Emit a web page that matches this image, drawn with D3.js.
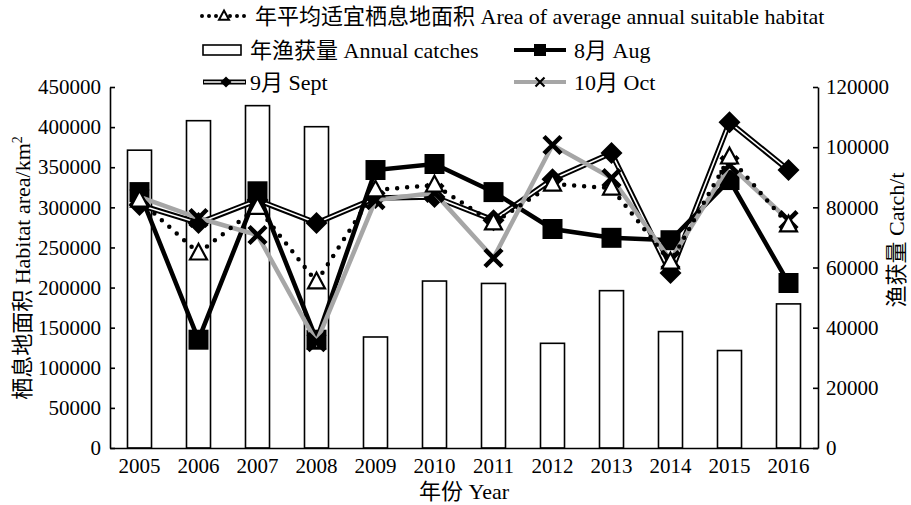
<!DOCTYPE html>
<html>
<head>
<meta charset="utf-8">
<script src="https://cdn.jsdelivr.net/npm/d3@7"></script>
<style>
  html, body { margin: 0; padding: 0; background: #fff; }
  svg text { font-family: "Liberation Serif", "Noto Sans CJK SC", serif; fill: #000; }
</style>
</head>
<body>
<svg id="chart" width="911" height="505"></svg>
<script>
// Years on the x axis
const years = ["2005","2006","2007","2008","2009","2010","2011","2012","2013","2014","2015","2016"];
// Annual catches (t), right axis
const annualCatches = [99000, 108800, 113800, 106800, 36900, 55500, 54700, 34800, 52300, 38700, 32400, 47900];
// Habitat areas (km²), left axis
const habitatAvg = [309000, 243000, 300000, 207000, 321600, 327800, 280500, 329000, 324000, 231800, 362700, 278000];
const habitatAug = [319000, 135000, 320000, 135000, 346500, 354000, 319000, 273000, 262000, 259000, 334000, 205700];
const habitatSept = [303000, 280500, 309000, 280500, 311600, 313000, 284000, 335000, 367700, 218000, 406000, 346500];
const habitatOct = [313000, 286700, 265500, 132000, 309000, 318000, 236800, 377700, 336500, 234300, 352700, 284000];
// Tick values
const leftTicks = [0, 50000, 100000, 150000, 200000, 250000, 300000, 350000, 400000, 450000];
const rightTicks = [0, 20000, 40000, 60000, 80000, 100000, 120000];

const svg = d3.select("#chart");
const L = 110, R = 818, T = 87, B = 448;
const FS = 21;   // tick labels
const FT = 22;   // titles and legend

const x = d3.scaleBand().domain(years).range([L, R]).paddingInner(0.593).paddingOuter(0.2965);
const cx = d => x(d) + x.bandwidth() / 2;
const yL = d3.scaleLinear().domain([0, 450000]).range([B, T]);
const yR = d3.scaleLinear().domain([0, 120000]).range([B, T]);

// Bars: annual catches
svg.append("g").selectAll("rect").data(years).join("rect")
  .attr("x", d => x(d))
  .attr("y", (d, i) => yR(annualCatches[i]))
  .attr("width", x.bandwidth())
  .attr("height", (d, i) => B - yR(annualCatches[i]))
  .attr("fill", "#fff").attr("stroke", "#000").attr("stroke-width", 1.6);

// Axes
function styleAxis(g) {
  g.selectAll("path.domain").attr("stroke", "#000").attr("stroke-width", 1.6);
  g.selectAll(".tick line").attr("stroke", "#000").attr("stroke-width", 1.6);
  g.selectAll(".tick text").style("font-size", FS + "px").attr("fill", "#000");
}
svg.append("g").attr("transform", `translate(${L},0)`)
  .call(d3.axisLeft(yL).tickValues(leftTicks).tickFormat(d3.format("d")).tickSize(-5).tickSizeOuter(0).tickPadding(9))
  .call(styleAxis);
svg.append("g").attr("transform", `translate(${R},0)`)
  .call(d3.axisRight(yR).tickValues(rightTicks).tickFormat(d3.format("d")).tickSize(-5).tickSizeOuter(0).tickPadding(8))
  .call(styleAxis);
svg.append("g").attr("transform", `translate(0,${B})`)
  .call(d3.axisBottom(x).tickSize(0).tickSizeOuter(0).tickPadding(10))
  .call(styleAxis);

// Axis titles
svg.append("text").attr("transform", "translate(464,499)")
  .attr("text-anchor", "middle").style("font-size", FT + "px").text("年份 Year");
svg.append("text").attr("transform", "translate(30,268) rotate(-90)")
  .attr("text-anchor", "middle").style("font-size", FT + "px")
  .html('栖息地面积 Habitat area/km<tspan dy="-8" style="font-size:14px">2</tspan>');
svg.append("text").attr("transform", "translate(904,240) rotate(-90)")
  .attr("text-anchor", "middle").style("font-size", FT + "px").text("渔获量 Catch/t");

// Marker shapes
const squarePath = s => `M${-s/2},${-s/2}h${s}v${s}h${-s}Z`;
const diamondPath = s => `M0,${-s/2}L${s/2},0L0,${s/2}L${-s/2},0Z`;
const crossPath = s => `M${-s/2},${-s/2}L${s/2},${s/2}M${s/2},${-s/2}L${-s/2},${s/2}`;
const triPath = s => `M0,${-s*0.55}L${s*0.5},${s*0.38}L${-s*0.5},${s*0.38}Z`;

const lineGen = vals => d3.line().x((d, i) => cx(years[i])).y(d => yL(d))(vals);

// September: double line with filled diamonds
const gSept = svg.append("g");
gSept.append("path").attr("d", lineGen(habitatSept)).attr("fill", "none").attr("stroke", "#000").attr("stroke-width", 5.5).attr("stroke-linejoin", "miter");
gSept.append("path").attr("d", lineGen(habitatSept)).attr("fill", "none").attr("stroke", "#fff").attr("stroke-width", 1.6).attr("stroke-linejoin", "miter");
gSept.selectAll("path.m").data(habitatSept).join("path").attr("class", "m")
  .attr("transform", (d, i) => `translate(${cx(years[i])},${yL(d)})`)
  .attr("d", diamondPath(22)).attr("fill", "#000");

// August: thick black line with squares
const gAug = svg.append("g");
gAug.append("path").attr("d", lineGen(habitatAug)).attr("fill", "none").attr("stroke", "#000").attr("stroke-width", 4.5);
gAug.selectAll("path.m").data(habitatAug).join("path").attr("class", "m")
  .attr("transform", (d, i) => `translate(${cx(years[i])},${yL(d)})`)
  .attr("d", squarePath(20)).attr("fill", "#000");

// October: grey line with black crosses
const gOct = svg.append("g");
gOct.append("path").attr("d", lineGen(habitatOct)).attr("fill", "none").attr("stroke", "#a6a6a6").attr("stroke-width", 4.5);
gOct.selectAll("path.m").data(habitatOct).join("path").attr("class", "m")
  .attr("transform", (d, i) => `translate(${cx(years[i])},${yL(d)})`)
  .attr("d", crossPath(17)).attr("fill", "none").attr("stroke", "#000").attr("stroke-width", 4.5);

// Annual average: dotted line with hollow triangles
const gAvg = svg.append("g");
gAvg.append("path").attr("d", lineGen(habitatAvg)).attr("fill", "none").attr("stroke", "#000").attr("stroke-width", 4.5)
  .attr("stroke-linecap", "round").attr("stroke-dasharray", "0 10");
gAvg.selectAll("path.m").data(habitatAvg).join("path").attr("class", "m")
  .attr("transform", (d, i) => `translate(${cx(years[i])},${yL(d)})`)
  .attr("d", triPath(17)).attr("fill", "#fff").attr("stroke", "#000").attr("stroke-width", 2.2);

// Legend
const lg = svg.append("g");
// row 1
lg.append("line").attr("x1", 202).attr("x2", 246).attr("y1", 16).attr("y2", 16)
  .attr("stroke", "#000").attr("stroke-width", 4).attr("stroke-linecap", "round").attr("stroke-dasharray", "0 7");
lg.append("path").attr("transform", "translate(224,16)").attr("d", triPath(10)).attr("fill", "#fff").attr("stroke", "#000").attr("stroke-width", 2);
lg.append("text").attr("x", 255).attr("y", 16).attr("dy", "0.35em").style("font-size", FT + "px")
  .text("年平均适宜栖息地面积 Area of average annual suitable habitat");
// row 2
lg.append("rect").attr("x", 203).attr("y", 45).attr("width", 38).attr("height", 10)
  .attr("fill", "#fff").attr("stroke", "#000").attr("stroke-width", 1.6);
lg.append("text").attr("x", 250).attr("y", 50).attr("dy", "0.35em").style("font-size", FT + "px").text("年渔获量 Annual catches");
lg.append("line").attr("x1", 514).attr("x2", 566).attr("y1", 50).attr("y2", 50).attr("stroke", "#000").attr("stroke-width", 4);
lg.append("path").attr("transform", "translate(540,50)").attr("d", squarePath(12)).attr("fill", "#000");
lg.append("text").attr("x", 574).attr("y", 50).attr("dy", "0.35em").style("font-size", FT + "px").text("8月 Aug");
// row 3
lg.append("line").attr("x1", 203).attr("x2", 246).attr("y1", 82).attr("y2", 82).attr("stroke", "#000").attr("stroke-width", 5);
lg.append("line").attr("x1", 204).attr("x2", 245).attr("y1", 82).attr("y2", 82).attr("stroke", "#fff").attr("stroke-width", 1.5);
lg.append("path").attr("transform", "translate(226,82)").attr("d", diamondPath(11)).attr("fill", "#000");
lg.append("text").attr("x", 250).attr("y", 82).attr("dy", "0.35em").style("font-size", FT + "px").text("9月 Sept");
lg.append("line").attr("x1", 514).attr("x2", 566).attr("y1", 82).attr("y2", 82).attr("stroke", "#a6a6a6").attr("stroke-width", 4);
lg.append("path").attr("transform", "translate(540,82)").attr("d", crossPath(9)).attr("fill", "none").attr("stroke", "#000").attr("stroke-width", 2.2);
lg.append("text").attr("x", 574).attr("y", 82).attr("dy", "0.35em").style("font-size", FT + "px").text("10月 Oct");
</script>
</body>
</html>
